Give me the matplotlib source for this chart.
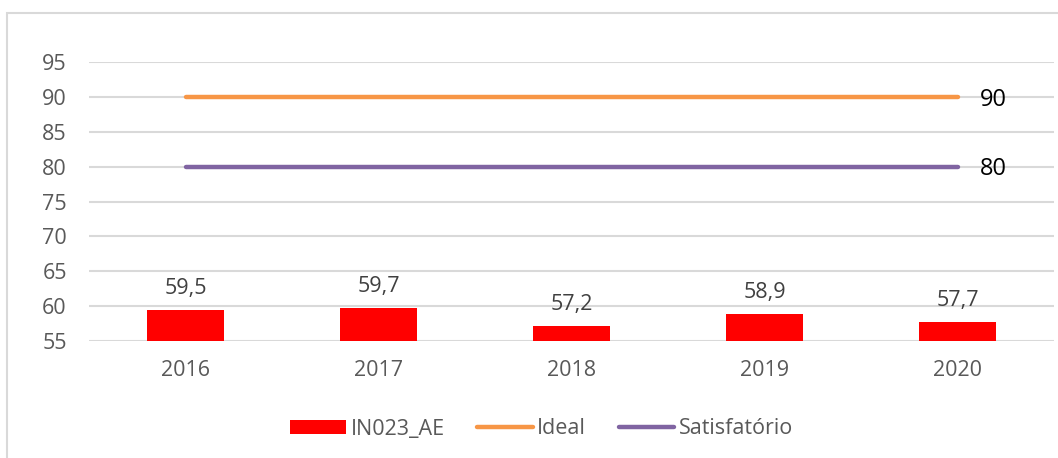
import numpy as np
import matplotlib
matplotlib.use("Agg")
import matplotlib.pyplot as plt
from matplotlib.patches import Rectangle

plt.rcParams["font.family"] = ["Open Sans", "DejaVu Sans"]

# data
years = ["2016", "2017", "2018", "2019", "2020"]
in023_ae = [59.5, 59.7, 57.2, 58.9, 57.7]
ideal = [90, 90, 90, 90, 90]
satisfatorio = [80, 80, 80, 80, 80]

RED = "#FF0000"
ORANGE = "#F79646"
PURPLE = "#8064A2"
GRID = "#D9D9D9"
TXT = "#595959"

fig = plt.figure(figsize=(10.58, 4.58), dpi=100)
ax = fig.add_axes([89 / 1058, 1 - 341 / 458, 965 / 1058, 279 / 458])

x = np.arange(len(years))
base = 55

# bars start at the axis minimum, like the Excel chart
b = ax.bar(x, np.array(in023_ae) - base, bottom=base, width=0.4, color=RED,
           label="IN023_AE", zorder=3)
l1, = ax.plot(x, ideal, color=ORANGE, lw=3.2, solid_capstyle="round",
              label="Ideal", zorder=4)
l2, = ax.plot(x, satisfatorio, color=PURPLE, lw=3.2, solid_capstyle="round",
              label="Satisfatório", zorder=4)

for xi, v in zip(x, in023_ae):
    ax.annotate(f"{v:.1f}".replace(".", ","), (xi, v), xytext=(0, 8),
                textcoords="offset points", ha="center", va="bottom",
                fontsize=15.5, color="#404040")

for series in (ideal, satisfatorio):
    ax.annotate(f"{series[-1]}", (x[-1], series[-1]), xytext=(16, -2),
                textcoords="offset points", ha="left", va="center",
                fontsize=17, color="black")

ax.set_xlim(-0.5, len(years) - 0.5)
ax.set_ylim(55, 95)
ax.set_yticks(range(55, 96, 5))
ax.set_xticks(x)
ax.set_xticklabels(years)
ax.tick_params(axis="both", length=0, labelsize=15.5, colors=TXT)
ax.tick_params(axis="x", pad=14)
ax.tick_params(axis="y", pad=16)
ax.grid(axis="y", color=GRID, lw=1.5, zorder=0)
ax.set_axisbelow(True)
for s in ax.spines.values():
    s.set_visible(False)

fig.legend([b, l1, l2], ["IN023_AE", "Ideal", "Satisfatório"],
           loc="center", bbox_to_anchor=(0.512, 1 - 429 / 458), ncol=3,
           frameon=False, fontsize=15.5, labelcolor=TXT, handlelength=2.6,
           handleheight=0.6, handletextpad=0.2, columnspacing=1.5)

# chart area border (only left/top visible in the crop)
fig.patches.append(Rectangle((7 / 1058, -0.2), 1.2, 1.2 - 13 / 458,
                             transform=fig.transFigure, fill=False,
                             edgecolor=GRID, lw=1.5))

fig.savefig("out.png", dpi=100)
